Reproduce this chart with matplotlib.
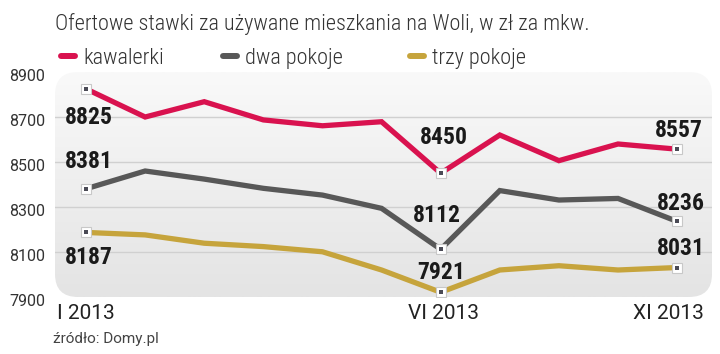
import numpy as np
import matplotlib
matplotlib.use('Agg')
import matplotlib.pyplot as plt
from matplotlib.patches import FancyBboxPatch
from matplotlib.lines import Line2D
from matplotlib.transforms import ScaledTranslation

# data
months = list(range(11))
kawalerki = [8825, 8700, 8768, 8687, 8661, 8679, 8450, 8620, 8506, 8580, 8557]
dwa_pokoje = [8381, 8460, 8424, 8383, 8353, 8294, 8112, 8373, 8331, 8338, 8236]
trzy_pokoje = [8187, 8176, 8139, 8124, 8101, 8020, 7921, 8020, 8039, 8020, 8031]
series_names = ['kawalerki', 'dwa pokoje', 'trzy pokoje']
labelled = [0, 6, 10]
tick_pos = [0, 6, 10]
tick_labels = ['I 2013', 'VI 2013', 'XI 2013']
y_ticks = [7900, 8100, 8300, 8500, 8700, 8900]

colors = ['#d9124f', '#585858', '#c6a43c']
cond = ['Roboto Condensed', 'Roboto', 'DejaVu Sans']
plain = ['Roboto', 'DejaVu Sans']

fig = plt.figure(figsize=(7.2, 3.54), dpi=100)
ax = fig.add_axes([55 / 720, 1 - 297 / 354, 657 / 720, 225 / 354])
ax.set_xlim(-0.525, 10.59)
ax.set_ylim(7900, 8900)
for s in ax.spines.values():
    s.set_visible(False)

# rounded panel with soft vertical gradient
panel = FancyBboxPatch((0, 0), 1, 1, boxstyle='round,pad=0,rounding_size=0.035',
                       transform=ax.transAxes, facecolor='none', edgecolor='none',
                       mutation_aspect=657 / 225)
ax.add_patch(panel)
grad = np.linspace(0, 1, 100).reshape(-1, 1)
img = ax.imshow(grad, extent=[-0.525, 10.59, 7900, 8900], aspect='auto',
                cmap=matplotlib.colors.LinearSegmentedColormap.from_list('g', ['#e4e4e4', '#f9f9f9']),
                origin='lower', zorder=0)
img.set_clip_path(panel)

for yv in [8100, 8300, 8500, 8700]:
    ax.axhline(yv, color='#d0d0d0', lw=1, zorder=1)

for vals, c in zip([kawalerki, dwa_pokoje, trzy_pokoje], colors):
    ax.plot(months, vals, color=c, lw=3.8, solid_joinstyle='miter', zorder=3)
    xs = [months[i] for i in labelled]
    ys = [vals[i] for i in labelled]
    ax.plot(xs, ys, 's', ms=6.5, mfc='white', mec='#c8c8c8', mew=0.8, zorder=4)
    ax.plot(xs, ys, 's', ms=2.6, color='#4a4a55', mew=0, zorder=5)

# value labels: (series, index) -> offset (dx, dy) in points
offsets = {
    (0, 0): (2, -20.5), (0, 6): (2, 25.5), (0, 10): (1, 13.5),
    (1, 0): (2, 19.5), (1, 6): (-3, 24.5), (1, 10): (2.5, 12.7),
    (2, 0): (2, -18), (2, 6): (0, 14.5), (2, 10): (2.5, 14),
}
for si, vals in enumerate([kawalerki, dwa_pokoje, trzy_pokoje]):
    for i in labelled:
        ax.annotate(str(vals[i]), (months[i], vals[i]), xytext=offsets[(si, i)],
                    textcoords='offset points', ha='center', va='center',
                    fontsize=17, fontweight='bold', family=cond, color='#1a1a1a', zorder=6)

ax.set_yticks(y_ticks)
ax.set_yticklabels([str(v) for v in y_ticks], family=plain, fontsize=11.5, color='#333333')
ax.set_xticks(tick_pos)
ax.set_xticklabels(tick_labels, family=plain, fontsize=15, color='#222222')
ax.tick_params(axis='both', length=0)
ax.tick_params(axis='y', pad=7)
ax.tick_params(axis='x', pad=5)
for lab in ax.get_yticklabels():
    lab.set_transform(lab.get_transform() + ScaledTranslation(0, -3 / 100, fig.dpi_scale_trans))
for lab, dx in zip(ax.get_xticklabels(), [0, 3, -9]):
    lab.set_transform(lab.get_transform() + ScaledTranslation(dx / 100, 0, fig.dpi_scale_trans))

fig.text(55 / 720, 1 - 30 / 354, 'Ofertowe stawki za używane mieszkania na Woli, w zł za mkw.',
         family=cond, fontsize=16, fontweight='light', color='#333333', va='baseline', ha='left')

# legend drawn by hand: pill + label
leg_x = [58, 220, 407]
for x0, name, c in zip(leg_x, series_names, colors):
    fig.add_artist(Line2D([(x0 + 3) / 720, (x0 + 17) / 720], [1 - 56 / 354] * 2,
                          color=c, lw=4.3, solid_capstyle='round'))
    fig.text((x0 + 25) / 720, 1 - 64 / 354, name, family=cond, fontsize=16,
             fontweight='light', color='#333333', va='baseline', ha='left')

fig.text(53 / 720, 1 - 343 / 354, 'źródło: Domy.pl', family=plain, fontsize=11,
         color='#444444', va='baseline', ha='left')

fig.savefig('out.png', dpi=100, facecolor='white')
